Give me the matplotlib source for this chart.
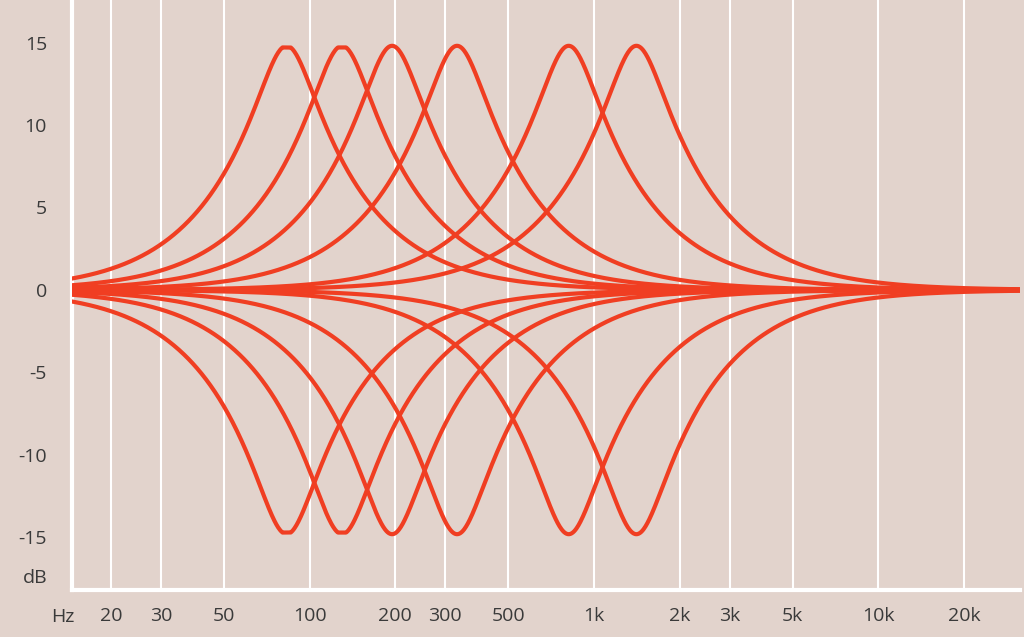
import numpy as np
import matplotlib
matplotlib.use("Agg")
import matplotlib.pyplot as plt

centers = [83, 130, 195, 330, 815, 1410]
clip_levels = [14.7, 14.7, 16, 16, 16, 16]
gain_db = 14.8
gains = [gain_db, -gain_db]
q_factor = 1.0
xticks = [20, 30, 50, 100, 200, 300, 500, 1000, 2000, 3000, 5000, 10000, 20000]
xlabels = ["20", "30", "50", "100", "200", "300", "500", "1k", "2k", "3k", "5k", "10k", "20k"]
yticks = [15, 10, 5, 0, -5, -10, -15]

bg = "#E2D3CC"
red = "#F03E22"
txt = "#3a3a3a"
plt.rcParams['font.family'] = ['Open Sans', 'DejaVu Sans']

fig = plt.figure(figsize=(10.24, 6.37), dpi=100, facecolor=bg)
ax = fig.add_axes([72/1024, 47/637, 948/1024, 590/637])
ax.set_facecolor(bg)
xmin, xmax = 14.6, 31500
ax.set_xscale('log')
ax.set_xlim(xmin, xmax)
y0 = 290; ppd = 16.5
ax.set_ylim(-(590 - y0)/ppd, y0/ppd)

f = np.logspace(np.log10(xmin), np.log10(xmax), 1500)
for g in gains:
    A = 10 ** (g / 40)
    for fc, cl in zip(centers, clip_levels):
        w = f / fc
        num = (1 - w**2)**2 + (w * A / q_factor)**2
        den = (1 - w**2)**2 + (w / (A * q_factor))**2
        db = 10 * np.log10(num / den)
        db = np.clip(db, -cl, cl)
        ax.plot(f, db, color=red, lw=3.0, solid_capstyle='round', zorder=3)

for x in xticks:
    ax.axvline(x, color='white', lw=1.5, zorder=1)
ax.set_xticks(xticks)
ax.set_xticklabels(xlabels)
ax.minorticks_off()
ax.set_yticks(yticks)
ax.set_yticklabels([str(v) for v in yticks])
ax.tick_params(length=0, labelsize=14, colors=txt)
ax.tick_params(axis='x', pad=12)
ax.tick_params(axis='y', pad=18)
for s in ['top', 'right']:
    ax.spines[s].set_visible(False)
for s in ['left', 'bottom']:
    ax.spines[s].set_color('white')
    ax.spines[s].set_linewidth(3)
fig.text(63/1024, 1 - 617/637, "Hz", ha='center', va='center', fontsize=14, color=txt)
fig.text(35/1024, 1 - 578/637, "dB", ha='center', va='center', fontsize=14, color=txt)
fig.savefig("out.png", dpi=100, facecolor=bg)
